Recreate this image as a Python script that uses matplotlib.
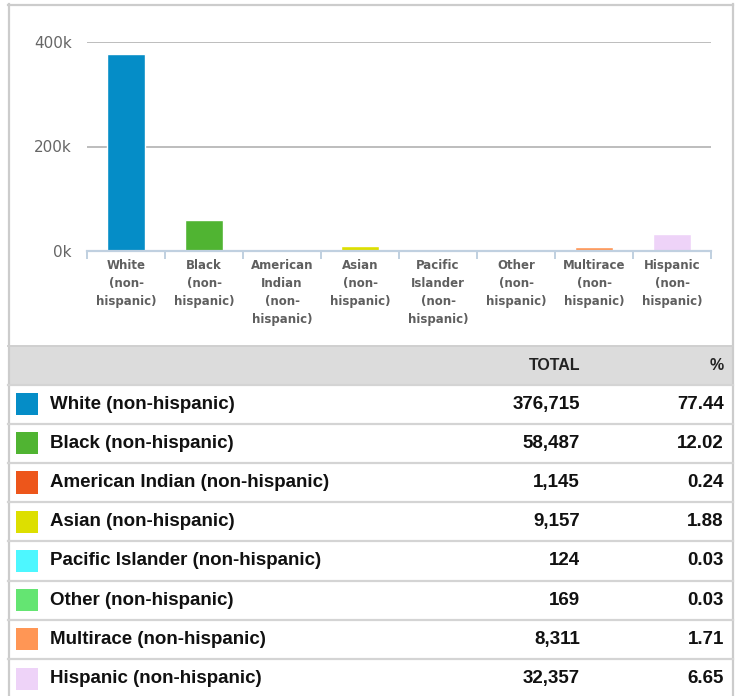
import matplotlib.pyplot as plt
from matplotlib.patches import Rectangle
from matplotlib.lines import Line2D

# data
categories = ['White (non-hispanic)', 'Black (non-hispanic)', 'American Indian (non-hispanic)',
              'Asian (non-hispanic)', 'Pacific Islander (non-hispanic)', 'Other (non-hispanic)',
              'Multirace (non-hispanic)', 'Hispanic (non-hispanic)']
tick_labels = ['White\n(non-\nhispanic)', 'Black\n(non-\nhispanic)', 'American\nIndian\n(non-\nhispanic)',
               'Asian\n(non-\nhispanic)', 'Pacific\nIslander\n(non-\nhispanic)', 'Other\n(non-\nhispanic)',
               'Multirace\n(non-\nhispanic)', 'Hispanic\n(non-\nhispanic)']
totals = [376715, 58487, 1145, 9157, 124, 169, 8311, 32357]
percents = [77.44, 12.02, 0.24, 1.88, 0.03, 0.03, 1.71, 6.65]
colors = ['#058DC7', '#50B432', '#ED561B', '#DDDF00', '#4DF7FF', '#64E572', '#FF9655', '#EED3F8']

W, H = 743, 696
fig = plt.figure(figsize=(W / 100, H / 100), dpi=100)


def fx(px):
    return px / W


def fy(px):
    return 1 - px / H


# outer border
fig.add_artist(Line2D([fx(8.5), fx(8.5)], [fy(4), fy(696)], color='#cccccc', lw=1.6))
fig.add_artist(Line2D([fx(732.5), fx(732.5)], [fy(4), fy(696)], color='#cccccc', lw=1.6))
fig.add_artist(Line2D([fx(8), fx(733)], [fy(4.5), fy(4.5)], color='#cccccc', lw=1.6))

# bar chart
ax = fig.add_axes([fx(87), fy(251), fx(711) - fx(87), fy(42) - fy(251)])
x = range(len(categories))
ax.bar(x, totals, width=0.48, color=colors, edgecolor='white', linewidth=1, zorder=3)
ax.set_xlim(-0.5, len(categories) - 0.5)
ax.set_ylim(0, 400000)
ax.set_yticks([0, 200000, 400000])
ax.set_yticklabels(['0k', '200k', '400k'], family='DejaVu Sans')
ax.yaxis.grid(True, color='#bdbdbd', linewidth=1.4, zorder=0)
for s in ['top', 'right', 'left']:
    ax.spines[s].set_visible(False)
ax.spines['bottom'].set_color('#C0D0E0')
ax.spines['bottom'].set_linewidth(1.6)
ax.spines['bottom'].set_zorder(4)
ax.tick_params(axis='y', length=0, pad=11, labelsize=11, labelcolor='#666666')
ax.set_xticks(list(x))
ax.set_xticklabels(tick_labels, fontsize=8.5, fontweight='heavy', color='#5f5f5f',
                   family='DejaVu Sans', linespacing=1.5, va='top')
ax.tick_params(axis='x', which='major', length=0, pad=6)
ax.set_xticks([i - 0.5 for i in range(len(categories) + 1)], minor=True)
ax.tick_params(axis='x', which='minor', length=6, width=1.4, color='#C0D0E0')
ax.set_axisbelow(True)

# table
fig.add_artist(Rectangle((fx(8), fy(384)), fx(733) - fx(8), fy(346) - fy(384),
                         facecolor='#dcdcdc', edgecolor='none'))
fig.add_artist(Line2D([fx(8), fx(733)], [fy(346.5), fy(346.5)], color='#cfcfcf', lw=1.4))
font = 'Liberation Sans'
fig.text(fx(580), fy(366), 'TOTAL', ha='right', va='center', fontsize=11.5,
         fontweight='bold', family=font, color='#222222')
fig.text(fx(724), fy(366), '%', ha='right', va='center', fontsize=11.5,
         fontweight='bold', family=font, color='#222222')

top = 384.5
step = 39.2
for i in range(len(categories) + 1):
    yl = top + step * i
    fig.add_artist(Line2D([fx(8), fx(733)], [fy(yl), fy(yl)], color='#d4d4d4', lw=1.6))

for i, (name, tot, pct, c) in enumerate(zip(categories, totals, percents, colors)):
    yc = top + step * (i + 0.5)
    fig.add_artist(Rectangle((fx(16), fy(yc + 11)), fx(38) - fx(16), fy(yc - 11) - fy(yc + 11),
                             facecolor=c, edgecolor='none'))
    fig.text(fx(50), fy(yc), name, ha='left', va='center', fontsize=13.5,
             fontweight='bold', family=font, color='#111111')
    fig.text(fx(580), fy(yc), f'{tot:,}', ha='right', va='center', fontsize=13.5,
             fontweight='bold', family=font, color='#111111')
    fig.text(fx(724), fy(yc), f'{pct:.2f}', ha='right', va='center', fontsize=13.5,
             fontweight='bold', family=font, color='#111111')

plt.savefig('out.png', dpi=100)
plt.close()
